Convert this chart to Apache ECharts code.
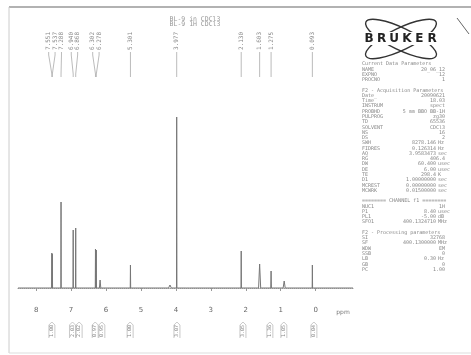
<!DOCTYPE html>
<html><head><meta charset="utf-8">
<script src="https://cdn.jsdelivr.net/npm/echarts@6/dist/echarts.min.js"></script>
<style>html,body{margin:0;padding:0;background:#fff}#c{width:471px;height:355px}</style>
</head><body><div id="c"></div>
<script>
// ---- data ----
const titleLines = ['BL-9 in CDCl3', 'BL-9 1H CDCl3'];
const peakPpm    = [7.551, 7.537, 7.288, 6.940, 6.868, 6.302, 6.278, 6.17, 5.301, 4.17, 3.977, 3.65, 2.130, 1.603, 1.275, 0.90, 0.093];
const peakHeight = [35,    34,    86,    58,    60,    39,    38,    8,    23,    3,    171,   2,    37,    24,    17,    7,    23];
const peakWidth  = [0.006, 0.006, 0.006, 0.006, 0.006, 0.006, 0.006, 0.02, 0.006, 0.04, 0.006, 0.04, 0.006, 0.03, 0.01, 0.03, 0.006];
const labelPpm   = [7.551, 7.537, 7.288, 6.940, 6.868, 6.302, 6.278, 5.301, 3.977, 2.130, 1.603, 1.275, 0.093];
const integralPpm   = [7.55, 6.96, 6.77, 6.31, 6.12, 5.31, 3.97, 2.08, 1.31, 0.91, 0.05];
const integralValue = ['1.00', '2.03', '2.02', '0.97', '0.95', '1.00', '3.07', '3.05', '1.36', '1.05', '0.04'];
const tickValues = [0, 1, 2, 3, 4, 5, 6, 7, 8];
const ppmMin = -1.07, ppmMax = 8.52;
const paramLines = [
 ['Current Data Parameters','',''],
 ['NAME','20_06_12',''],
 ['EXPNO','12',''],
 ['PROCNO','1',''],
 null,
 ['F2 - Acquisition Parameters','',''],
 ['Date_','20090621',''],
 ['Time','18.03',''],
 ['INSTRUM','spect',''],
 ['PROBHD','5 mm BBO BB-1H',''],
 ['PULPROG','zg30',''],
 ['TD','65536',''],
 ['SOLVENT','CDCl3',''],
 ['NS','16',''],
 ['DS','2',''],
 ['SWH','8278.146','Hz'],
 ['FIDRES','0.126314','Hz'],
 ['AQ','3.9583473','sec'],
 ['RG','406.4',''],
 ['DW','60.400','usec'],
 ['DE','6.00','usec'],
 ['TE','298.4','K'],
 ['D1','1.00000000','sec'],
 ['MCREST','0.00000000','sec'],
 ['MCWRK','0.01500000','sec'],
 null,
 ['======== CHANNEL f1 ========','',''],
 ['NUC1','1H',''],
 ['P1','8.40','usec'],
 ['PL1','-5.00','dB'],
 ['SFO1','400.1324710','MHz'],
 null,
 ['F2 - Processing parameters','',''],
 ['SI','32768',''],
 ['SF','400.1300000','MHz'],
 ['WDW','EM',''],
 ['SSB','0',''],
 ['LB','0.30','Hz'],
 ['GB','0',''],
 ['PC','1.00','']
];

// ---- build spectrum trace (stick peaks on a flat baseline) ----
const order = peakPpm.map((p,i)=>i).sort((a,b)=>peakPpm[b]-peakPpm[a]);
const spec = [[ppmMax, 0]];
order.forEach(i => {
  spec.push([peakPpm[i] + peakWidth[i], 0]);
  spec.push([peakPpm[i], peakHeight[i]]);
  spec.push([peakPpm[i] - peakWidth[i], 0]);
});
spec.push([ppmMin, 0]);

const chart = echarts.init(document.getElementById('c'), null, {renderer:'canvas'});
const GRID = {left: 18, right: 118, top: 48, bottom: 67};
chart.setOption({
  animation: false,
  backgroundColor: '#fff',
  grid: GRID,
  xAxis: {
    type: 'value', inverse: true, min: ppmMin, max: ppmMax, offset: 13,
    axisLine: {lineStyle: {color: '#999', width: 1, type: [1, 1]}},
    axisTick: {show: true, customValues: tickValues, length: 3, lineStyle: {color: '#999'}},
    axisLabel: {customValues: tickValues, fontSize: 7, color: '#666', margin: 6, fontFamily: 'DejaVu Sans'},
    splitLine: {show: false}
  },
  yAxis: {type: 'value', min: 0, max: 240, show: false},
  series: [{
    type: 'line', data: spec, symbol: 'none', silent: true,
    lineStyle: {color: '#777', width: 1}
  }]
});

// ---- annotations (labels, integrals, parameters, frame) ----
const px = p => chart.convertToPixel({xAxisIndex: 0}, p);
const g = [];
const gray = '#888';
// frame
g.push({type:'line', shape:{x1:9,y1:7,x2:471,y2:7}, style:{stroke:'#999', lineWidth:1.5}});
g.push({type:'line', shape:{x1:9,y1:7,x2:9,y2:353}, style:{stroke:'#ccc', lineWidth:1}});
g.push({type:'line', shape:{x1:9,y1:353,x2:471,y2:353}, style:{stroke:'#ddd', lineWidth:1}});
// title
titleLines.forEach((t,i)=>g.push({type:'text', style:{text:t, x:195, y:19+i*5, font:'6.5px "DejaVu Sans Mono"', fill:'#999', align:'center', verticalAlign:'middle'}}));

// peak labels with spreading
const GAP = 6.4;
const pk = labelPpm.map(p => ({p, x: px(p)})).sort((a,b)=>a.x-b.x);
let clusters = pk.map(o => [o]);
let merged = true;
const place = c => { const m = c.reduce((s,o)=>s+o.x,0)/c.length; c.forEach((o,i)=>o.lx = m + (i-(c.length-1)/2)*GAP); };
clusters.forEach(place);
while (merged) {
  merged = false;
  for (let i=0;i<clusters.length-1;i++){
    const a = clusters[i], b = clusters[i+1];
    if (b[0].lx - a[a.length-1].lx < GAP) { clusters.splice(i,2,a.concat(b)); place(clusters[i]); merged = true; break; }
  }
}
pk.forEach(o => {
  g.push({type:'text', x:o.lx, y:41, rotation:Math.PI/2,
    style:{text:o.p.toFixed(3), x:0, y:0, font:'6px "DejaVu Sans Mono"', fill:gray, align:'center', verticalAlign:'middle'}});
  g.push({type:'polyline', shape:{points:[[o.lx,52],[o.lx,55],[o.x,74],[o.x,77]]}, style:{stroke:'#aaa', lineWidth:0.8, fill:null}});
});

// integrals
integralPpm.forEach((p,i) => {
  const x = px(p);
  g.push({type:'polyline', shape:{points:[[x-3,338],[x-3,325],[x,322],[x+3,325],[x+3,338]]}, style:{stroke:'#bbb', lineWidth:0.8, fill:null}});
  g.push({type:'text', x:x, y:331, rotation:Math.PI/2,
    style:{text:integralValue[i], x:0, y:0, font:'5px "DejaVu Sans Mono"', fill:gray, align:'center', verticalAlign:'middle'}});
});
// ppm unit
g.push({type:'text', style:{text:'ppm', x:px(ppmMin)-10, y:312, font:'6px "DejaVu Sans"', fill:'#777', align:'center', verticalAlign:'middle'}});

// Bruker logo
g.push({type:'ellipse', rotation:0.45, x:401, y:39, shape:{cx:0, cy:0, rx:39, ry:11}, style:{stroke:'#333', lineWidth:1.4, fill:null}});
g.push({type:'ellipse', rotation:-0.45, x:401, y:39, shape:{cx:0, cy:0, rx:39, ry:11}, style:{stroke:'#333', lineWidth:1.4, fill:null}});
g.push({type:'rect', shape:{x:361, y:32, width:80, height:13}, style:{fill:'#fff'}});
'BRUKER'.split('').forEach((ch,i)=>g.push({type:'text', style:{text:ch, x:369+i*12.6, y:38.5, font:'bold 12px "DejaVu Sans"', fill:'#222', align:'center', verticalAlign:'middle'}}));
g.push({type:'line', shape:{x1:457,y1:18,x2:469,y2:34}, style:{stroke:'#666', lineWidth:1}});

// parameters
paramLines.forEach((ln,i) => {
  if (!ln) return;
  const y = 64 + i*5.27;
  g.push({type:'text', style:{text:ln[0], x:362, y, font:'5px "DejaVu Sans Mono"', fill:gray, align:'left', verticalAlign:'middle'}});
  if (ln[1]) g.push({type:'text', style:{text:ln[1], x: ln[2] ? 436 : 445, y, font:'5px "DejaVu Sans Mono"', fill:gray, align:'right', verticalAlign:'middle'}});
  if (ln[2]) g.push({type:'text', style:{text:ln[2], x:438, y, font:'5px "DejaVu Sans Mono"', fill:gray, align:'left', verticalAlign:'middle'}});
});

chart.setOption({graphic: {elements: g}});
</script></body></html>
